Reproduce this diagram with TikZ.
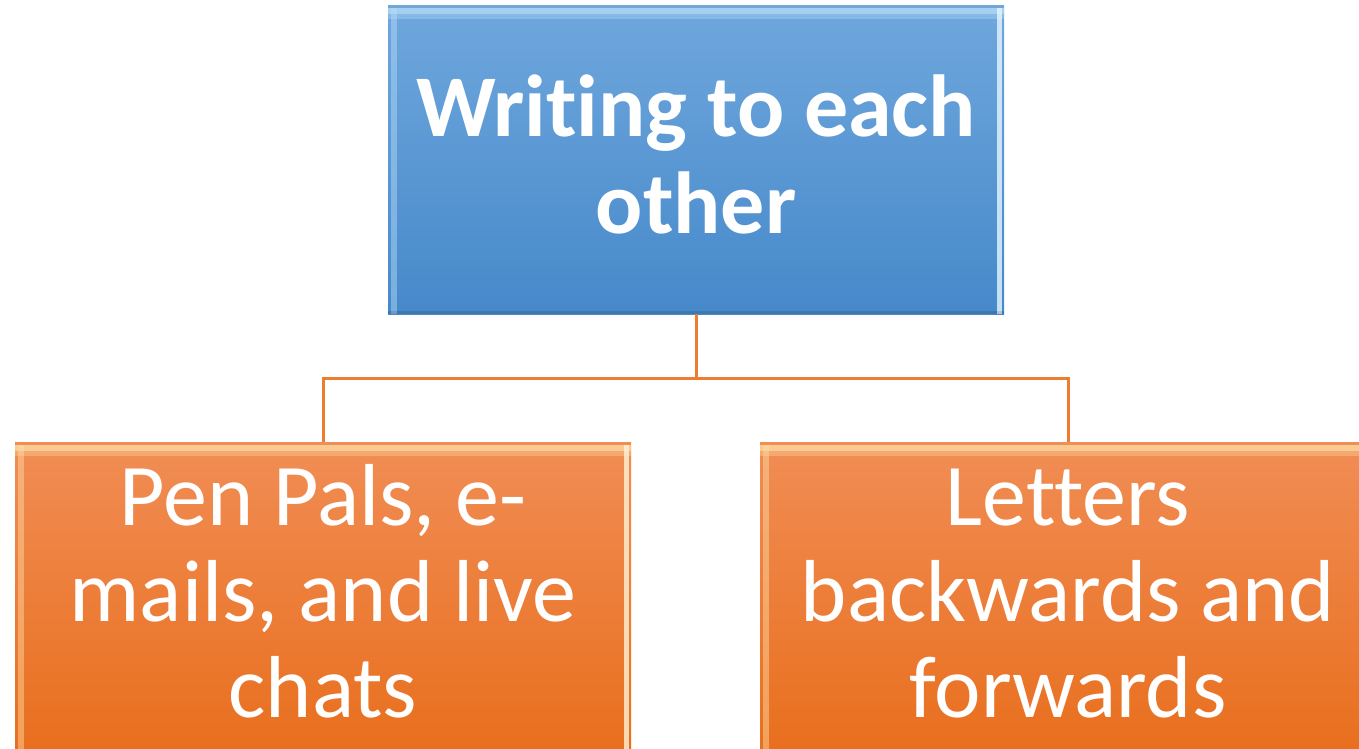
\documentclass[tikz,border=0pt]{standalone}
\usepackage{fontspec}
\setmainfont[Ligatures=NoCommon]{Carlito}
\usetikzlibrary{calc}
\definecolor{bluetop}{HTML}{6FA7DD}
\definecolor{bluebot}{HTML}{4689CA}
\definecolor{bluehi}{HTML}{B8DEF9}
\definecolor{blueedge}{HTML}{E6F6FF}
\definecolor{orgtop}{HTML}{F18D55}
\definecolor{orgbot}{HTML}{E86E1C}
\definecolor{orghi}{HTML}{FDE0A8}
\definecolor{orgedge}{HTML}{FFF3D6}
\definecolor{conn}{HTML}{EE7D33}
\tikzset{
  bevel/.style 2 args={path picture={
    \coordinate (nw) at (path picture bounding box.north west);
    \coordinate (se) at (path picture bounding box.south east);
    \fill[#1,opacity=0.75] ($(nw)+(0pt,-3pt)$) rectangle ($(se |- nw)+(0pt,-9pt)$);
    \fill[#1,opacity=0.35] ($(nw)+(0pt,-9pt)$) rectangle ($(se |- nw)+(0pt,-14pt)$);
    \fill[#1,opacity=0.45] ($(nw)+(3pt,-3pt)$) rectangle ($(nw |- se)+(9pt,0pt)$);
    \fill[#2,opacity=0.8] ($(se |- nw)+(-7pt,-3pt)$) rectangle ($(se)+(-2pt,0pt)$);
    \fill[black,opacity=0.12] ($(nw |- se)+(0pt,3pt)$) rectangle (se);
  }},
  box/.style={draw=none, inner sep=0pt, minimum width=616pt, minimum height=309pt},
  bluebox/.style={box, top color=bluetop, bottom color=bluebot, bevel={bluehi}{blueedge}},
  orgbox/.style={box, top color=orgtop, bottom color=orgbot, bevel={orghi}{orgedge}},
  lbl/.style={inner sep=0pt, text=white, align=center, anchor=base,
    font=\fontsize{88}{96}\selectfont},
  conn/.style={draw=conn, line width=3pt}
}
\begin{document}
\begin{tikzpicture}[x=1pt,y=-1pt]
\useasboundingbox (0,0) rectangle (1359,748);
\clip (0,0) rectangle (1359,748);
\node[bluebox] (top) at (696,159.5) {};
\node[orgbox, minimum height=318pt] (left) at (323,601) {};
\node[orgbox, minimum height=318pt] (right) at (1068,601) {};
\node[lbl, font=\fontsize{88}{97}\selectfont\bfseries] (toptext) at (696,233) {Writing to each\\other};
\node[lbl] (lefttext) at (323,717) {Pen Pals, e-\\mails, and live\\chats};
\node[lbl] (righttext) at (1068,717) {Letters\\backwards and\\forwards};
\coordinate (bus) at (696,378);
\draw[conn] (top.south) -- (bus) -| (left.north);
\draw[conn] (bus) -| (right.north);
\end{tikzpicture}
\end{document}
